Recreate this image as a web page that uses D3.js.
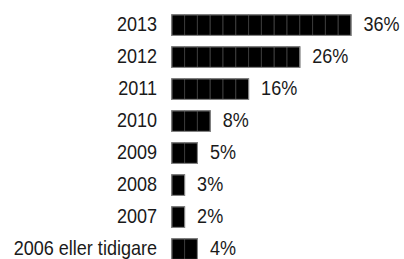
<!DOCTYPE html>
<html><head><meta charset="utf-8">
<script src="https://cdn.jsdelivr.net/npm/d3@7"></script>
<style>body{margin:0;background:#fff}svg{display:block}</style>
</head><body>
<script>
const categories = ["2013","2012","2011","2010","2009","2008","2007","2006 eller tidigare"];
const values = [36,26,16,8,5,3,2,4];
const unitValue = 2.5; // each block represents 2.5%

const W = 404, H = 259;
const svg = d3.select("body").append("svg").attr("width", W).attr("height", H);
const font = "'Liberation Sans Narrow','Arial Narrow','Liberation Sans',Arial,sans-serif";
const fs = 20.5, sx = 0.88;

const x = d3.scaleLinear().domain([0, 40]).range([171.3, 171.3 + 16 * 12.8]);
const y = d3.scaleBand().domain(categories).range([14.3, 14.3 + 8 * 32]);
const bh = 21.6;

function label(xp, yp, txt, anchor) {
  svg.append("g").attr("transform", `translate(${xp},${yp}) scale(${sx},1)`)
    .append("text")
    .attr("text-anchor", anchor)
    .attr("font-family", font).attr("font-size", fs).attr("fill", "#1a1a1a")
    .text(txt);
}

categories.forEach((c, i) => {
  const units = Math.round(values[i] / unitValue);
  const top = y(c);
  const g = svg.append("g");
  d3.range(units).forEach(k => {
    g.append("rect")
      .attr("x", x(k * unitValue) + 0.5)
      .attr("y", top + 0.5)
      .attr("width", x((k + 1) * unitValue) - x(k * unitValue))
      .attr("height", bh - 1)
      .attr("fill", "#000")
      .attr("stroke", "#3a3a3a")
      .attr("stroke-width", 1);
  });
  g.append("rect")
    .attr("x", x(0) + 0.5).attr("y", top + 0.5)
    .attr("width", x(units * unitValue) - x(0)).attr("height", bh - 1)
    .attr("fill", "none").attr("stroke", "#8a8a8a").attr("stroke-width", 1);
  label(157, top + 16.6, c, "end");
  label(x(units * unitValue) + 13, top + 16.6, values[i] + "%", "start");
});
</script>
</body></html>
